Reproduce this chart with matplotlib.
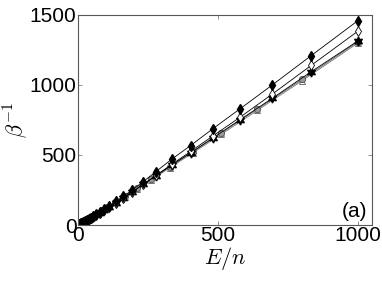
import numpy as np
import matplotlib.pyplot as plt

plt.rcParams['font.family'] = ['Liberation Sans', 'DejaVu Sans']
plt.rcParams['mathtext.fontset'] = 'cm'

# grille en E/n (series 1)
x1 = [1000, 833, 694, 579, 482, 402, 335, 279, 233, 194, 162, 135, 112, 94, 78,
      65, 54, 45, 38, 31, 26, 22, 18, 15, 12.5, 10.5, 8.7, 7.3, 6.0, 5.0, 4.2, 3.5, 2.9]
y_fdiam = [1460, 1210, 1000, 830, 688, 567, 470, 382, 310, 250, 205, 168, 138, 114, 94,
           77, 64, 53, 44, 36, 30, 25, 20.5, 17, 14, 11.8, 9.8, 8.2, 6.8, 5.6, 4.7, 3.9, 3.3]
y_odiam = [1385, 1140, 935, 770, 636, 525, 433, 355, 290, 236, 193, 158, 130, 107, 88,
           73, 60, 50, 41, 34, 28, 23.5, 19.5, 16, 13.3, 11, 9.2, 7.7, 6.3, 5.3, 4.4, 3.7, 3.1]
y_star = [1315, 1095, 905, 752, 622, 515, 428, 352, 290, 237, 194, 160, 131, 108, 89,
          74, 61, 50, 42, 35, 29, 24, 20, 16.5, 13.7, 11.5, 9.5, 8, 6.6, 5.5, 4.6, 3.8, 3.2]

# grille en E/n (series 2)
x2 = [1000, 800, 640, 512, 410, 328, 262, 210, 168, 134, 107, 86, 69, 55, 44, 35, 28,
      22.5, 18, 14.4, 11.5, 9.2, 7.4, 5.9, 4.7, 3.8, 3.0]
y_circ = [1310, 1040, 828, 658, 523, 416, 330, 262, 208, 165, 131, 104, 83, 66, 52, 41.5,
          33, 26.5, 21, 17, 13.5, 10.8, 8.7, 6.9, 5.5, 4.4, 3.5]
y_tri = [1300, 1030, 818, 648, 515, 408, 323, 256, 203, 161, 128, 102, 81, 64, 51, 40.5,
         32, 26, 20.5, 16.5, 13.2, 10.5, 8.5, 6.7, 5.4, 4.3, 3.4]

fig = plt.figure(figsize=(3.82, 2.87), dpi=100)
ax = fig.add_axes([0.204, 0.216, 0.770, 0.732])

lw = 0.6
ax.plot(x2, y_tri, '-', color='0.45', lw=lw, marker='^', ms=4.5, mfc='white', mec='0.45', mew=0.7)
ax.plot(x2, y_circ, '-', color='0.35', lw=lw, marker='o', ms=4.5, mfc='0.6', mec='0.3', mew=0.6)
ax.plot(x1, y_star, '-', color='k', lw=lw, marker=(6, 1, 0), ms=6.5, mfc='k', mec='k')
ax.plot(x1, y_odiam, '-', color='k', lw=lw, marker='d', ms=5, mfc='white', mec='k', mew=0.6)
ax.plot(x1, y_fdiam, '-', color='k', lw=lw, marker='d', ms=5, mfc='k', mec='k')

ax.set_xlim(0, 1050)
ax.set_ylim(0, 1500)
ax.set_xticks([0, 500, 1000])
ax.set_yticks([0, 500, 1000, 1500])
ax.tick_params(direction='in', length=3, width=0.6, labelsize=15, pad=1,
               top=True, right=True, colors='0.5', labelcolor='k')
for s in ax.spines.values():
    s.set_linewidth(0.8)
    s.set_color('0.35')

ax.set_xlabel('$E/n$', fontsize=16, labelpad=0)
ax.set_ylabel(r'$\beta^{-1}$', fontsize=16, labelpad=0)
ax.text(0.985, 0.02, '(a)', transform=ax.transAxes, ha='right', va='bottom', fontsize=15)

fig.savefig('out.png', dpi=100)
